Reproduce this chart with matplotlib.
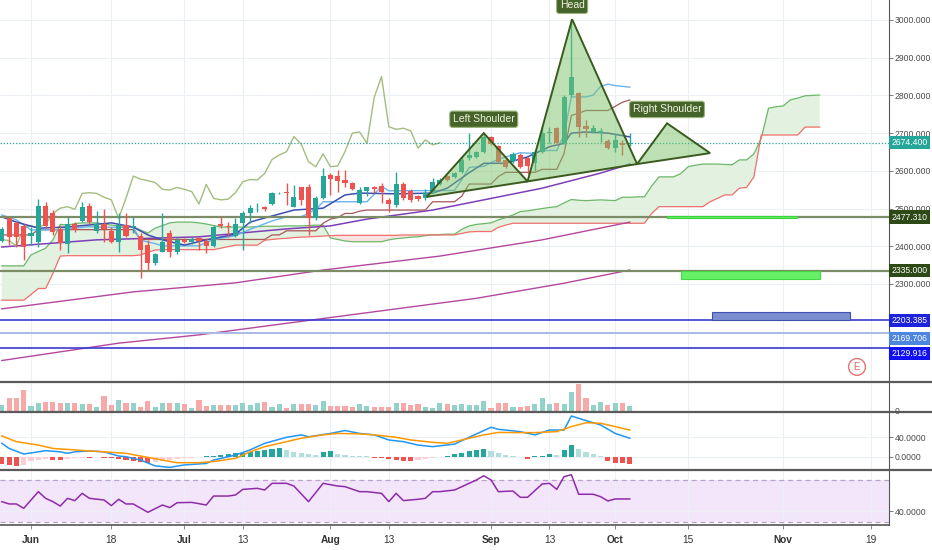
import numpy as np
import matplotlib.pyplot as plt
import matplotlib.transforms as mtransforms
from matplotlib.colors import to_rgba
from matplotlib.lines import Line2D
from matplotlib.patches import Polygon, Rectangle

plt.rcParams['font.family'] = ['Liberation Sans', 'DejaVu Sans']

# one step per trading day, 0 = 1 Jun
bars = np.arange(-4, 83)

opens = [2415, 2474, 2461, 2454, 2427, 2412, 2508, 2487, 2445, 2406,
         2459, 2468, 2508, 2440, 2459, 2440, 2412, 2456, 2450, 2428,
         2403, 2355, 2386, 2436, 2386, 2417, 2410, 2421, 2414, 2401,
         2459, 2454, 2427, 2461, 2487, 2503, 2505, 2512, 2540, 2543,
         2505, 2556, 2558, 2474, 2527, 2589, 2585, 2576, 2569, 2514,
         2547, 2558, 2560, 2523, 2509, 2565, 2547, 2532, 2527, 2540,
         2566, 2586, 2583, 2598, 2633, 2636, 2651, 2689, 2666, 2630,
         2627, 2642, 2633, 2620, 2651, 2699, 2714, 2673, 2801, 2806,
         2719, 2704, 2701, 2680, 2660, 2673, 2670]
highs = [2450, 2478, 2468, 2459, 2450, 2524, 2518, 2496, 2456, 2478,
         2465, 2518, 2514, 2494, 2499, 2452, 2487, 2487, 2478, 2434,
         2417, 2383, 2487, 2443, 2424, 2421, 2424, 2424, 2421, 2456,
         2478, 2465, 2474, 2494, 2509, 2516, 2508, 2545, 2545, 2567,
         2562, 2558, 2564, 2532, 2607, 2593, 2602, 2602, 2571, 2558,
         2558, 2560, 2569, 2527, 2598, 2571, 2551, 2536, 2551, 2580,
         2580, 2589, 2596, 2637, 2701, 2653, 2700, 2693, 2668, 2633,
         2651, 2646, 2636, 2655, 2717, 2717, 2717, 2801, 3002, 2810,
         2735, 2722, 2713, 2684, 2699, 2682, 2699]
lows = [2411, 2403, 2399, 2364, 2403, 2399, 2448, 2430, 2390, 2381,
        2438, 2465, 2459, 2434, 2412, 2408, 2386, 2424, 2434, 2315,
        2337, 2350, 2384, 2372, 2379, 2408, 2406, 2390, 2381, 2399,
        2448, 2425, 2424, 2390, 2461, 2492, 2494, 2509, 2538, 2509,
        2503, 2510, 2430, 2470, 2525, 2536, 2545, 2558, 2549, 2512,
        2532, 2540, 2514, 2492, 2505, 2523, 2518, 2521, 2523, 2540,
        2562, 2574, 2580, 2595, 2630, 2633, 2648, 2668, 2620, 2607,
        2622, 2607, 2591, 2600, 2646, 2673, 2668, 2671, 2797, 2691,
        2691, 2700, 2677, 2657, 2651, 2642, 2666]
closes = [2445, 2424, 2424, 2399, 2436, 2508, 2454, 2439, 2408, 2459,
          2443, 2505, 2463, 2459, 2446, 2412, 2456, 2427, 2454, 2390,
          2355, 2379, 2410, 2386, 2417, 2412, 2418, 2415, 2401, 2450,
          2454, 2450, 2459, 2487, 2501, 2505, 2498, 2540, 2542, 2540,
          2530, 2523, 2474, 2527, 2586, 2578, 2574, 2569, 2551, 2549,
          2556, 2551, 2545, 2512, 2564, 2527, 2523, 2525, 2542, 2571,
          2577, 2576, 2593, 2630, 2642, 2651, 2691, 2671, 2624, 2611,
          2645, 2611, 2613, 2651, 2700, 2703, 2673, 2795, 2850, 2717,
          2710, 2713, 2706, 2660, 2682, 2669, 2674.4]
volume = [18, 38, 38, 63, 15, 25, 28, 28, 25, 23,
          23, 21, 21, 13, 46, 18, 33, 25, 23, 13,
          30, 13, 25, 23, 23, 21, 8, 33, 15, 18,
          18, 18, 18, 23, 18, 25, 28, 13, 21, 8,
          21, 21, 21, 18, 31, 15, 15, 15, 11, 21,
          15, 11, 11, 11, 23, 23, 18, 21, 11, 8,
          25, 21, 18, 21, 18, 18, 31, 8, 25, 25,
          13, 13, 15, 21, 38, 21, 25, 21, 58, 81,
          38, 18, 28, 18, 23, 23, 15]

# ichimoku
kijun = [2430, 2430, 2430, 2430, 2430, 2444, 2444, 2444, 2444, 2444,
         2444, 2444, 2444, 2444, 2444, 2444, 2444, 2444, 2444, 2418,
         2418, 2418, 2418, 2418, 2418, 2418, 2418, 2418, 2418, 2418,
         2418, 2418, 2418, 2418, 2418, 2418, 2418, 2430, 2430, 2441,
         2441, 2441, 2441, 2441, 2461, 2472, 2476, 2487, 2487, 2493,
         2496, 2496, 2496, 2496, 2496, 2496, 2496, 2496, 2496, 2518,
         2518, 2518, 2518, 2533, 2565, 2565, 2565, 2565, 2585, 2596,
         2596, 2596, 2596, 2596, 2604, 2604, 2604, 2646, 2747, 2753,
         2760, 2760, 2760, 2760, 2771, 2782, 2788]
tenkan_x = [-4, -2, 0, 4, 8, 10, 14, 15, 17, 18, 23, 25, 28, 30, 33, 35, 37, 39, 40, 46,
            47, 48, 49, 58, 59, 60, 62, 64, 67, 69, 70, 72, 73, 74, 76, 77, 78, 79, 80, 82]
tenkan_y = [2483, 2470, 2443, 2444, 2452, 2450, 2450, 2416, 2407, 2401, 2401, 2418, 2428, 2445,
            2467, 2478, 2478, 2498, 2518, 2518, 2538, 2559, 2547, 2548, 2577, 2609, 2612, 2631,
            2648, 2646, 2654, 2654, 2696, 2796, 2796, 2801, 2824, 2830, 2826, 2822]
# leading spans, already shifted 26 bars ahead (bars -4 .. 108)
span_a = [2348, 2348, 2348, 2348, 2377, 2386, 2395, 2417, 2458, 2456,
          2460, 2462, 2462, 2462, 2459, 2456, 2454, 2452, 2451, 2443,
          2435, 2448, 2455, 2462, 2464, 2464, 2464, 2462, 2459, 2455,
          2451, 2451, 2451, 2451, 2451, 2452, 2453, 2453, 2453, 2454,
          2454, 2454, 2455, 2456, 2456, 2422, 2418, 2414, 2412, 2412,
          2412, 2412, 2412, 2417, 2420, 2422, 2424, 2425, 2428, 2430,
          2431, 2432, 2432, 2445, 2454, 2458, 2460, 2462, 2470, 2476,
          2483, 2492, 2494, 2497, 2500, 2503, 2505, 2515, 2524, 2522,
          2521, 2522, 2523, 2522, 2521, 2530, 2530, 2531, 2531, 2560,
          2584, 2584, 2584, 2593, 2611, 2615, 2618, 2618, 2618, 2617,
          2616, 2629, 2629, 2645, 2686, 2766, 2770, 2772, 2788, 2793,
          2799, 2800, 2801]
span_b = [2257, 2257, 2257, 2257, 2272, 2288, 2288, 2328, 2374, 2375,
          2375, 2375, 2375, 2375, 2375, 2375, 2375, 2375, 2375, 2377,
          2384, 2390, 2391, 2391, 2391, 2391, 2391, 2391, 2391, 2391,
          2395, 2399, 2403, 2403, 2403, 2403, 2416, 2418, 2420, 2421,
          2423, 2424, 2425, 2426, 2427, 2428, 2429, 2429, 2429, 2429,
          2429, 2429, 2429, 2429, 2429, 2430, 2430, 2430, 2430, 2430,
          2430, 2430, 2430, 2434, 2438, 2439, 2439, 2439, 2450, 2456,
          2461, 2461, 2461, 2461, 2461, 2461, 2461, 2461, 2461, 2461,
          2461, 2461, 2461, 2461, 2461, 2461, 2461, 2461, 2461, 2487,
          2505, 2505, 2505, 2505, 2505, 2505, 2505, 2518, 2527, 2536,
          2536, 2554, 2556, 2584, 2695, 2695, 2695, 2695, 2695, 2695,
          2716, 2716, 2716]
lag_shift = 26

# moving averages
ema_x = [-4, -2, 1, 5, 11, 14, 16, 18, 21, 24, 28, 30, 32, 36, 40, 43, 45, 50, 55, 57,
         60, 62, 65, 68, 71, 73, 74, 76, 79, 82]
ema_y = [2478, 2464, 2448, 2451, 2462, 2451, 2430, 2417, 2403, 2417, 2432, 2464, 2475, 2496,
         2501, 2536, 2541, 2539, 2541, 2554, 2595, 2620, 2620, 2637, 2664, 2673, 2700, 2703,
         2700, 2690]
ma50_x = [-4, 9, 23, 35, 41, 46, 55, 62, 70, 78, 82]
ma50_y = [2398, 2417, 2425, 2446, 2454, 2472, 2496, 2523, 2554, 2594, 2618]
ma100_x = [-4, 14, 28, 40, 56, 70, 82]
ma100_y = [2234, 2279, 2303, 2337, 2374, 2417, 2464]
ma200_x = [-4, 12, 23, 41, 61, 73, 82]
ma200_y = [2097, 2143, 2165, 2211, 2262, 2302, 2337]

# levels and drawings
last_price = 2674.4
levels = [2477.31, 2335.0, 2203.385, 2169.706, 2129.916]
zone_start = [87.1, 89.0, 93.2]
zone_end = [104.9, 108.0, 112.2]
zone_low = [2475.0, 2313.0, 2203.4]
zone_high = [2480.0, 2335.0, 2225.0]
hs_x = [54.2, 62.0, 68.0, 74.1, 83.0, 87.1, 93.0]
hs_y = [2531, 2700, 2572, 3002, 2618, 2726, 2647]
hs_labels = ['Left Shoulder', 'Head', 'Right Shoulder']

# macd
macd_x = [-4, -3, -1, 1, 2, 4, 5, 6, 8, 10, 12, 13, 15, 17, 19, 21, 24, 25, 28, 30,
          32, 35, 37, 38, 41, 43, 45, 47, 49, 51, 53, 55, 58, 60, 63, 64, 67, 69, 71, 73,
          74, 76, 78, 80, 82]
macd_y = [27.6, 17, 5.5, 10, 12.4, 10, 7, 10, 12, 10, 1.4, 0, -7, -19, -22, -17, -14, -7, 3.4, 14,
          27.6, 40, 45, 41, 48, 54, 48, 45, 34.5, 31, 24, 20.7, 26, 40, 60.7, 56.5, 51.7, 45, 55, 55,
          84, 74.5, 65.5, 48, 38]
signal_x = [-4, -2, 1, 3, 6, 8, 10, 13, 15, 18, 20, 23, 25, 28, 30, 32, 35, 37, 40, 42,
            45, 47, 50, 52, 55, 57, 59, 62, 64, 67, 69, 72, 74, 76, 78, 80, 82]
signal_y = [42.8, 31, 24, 17, 14, 11.7, 10, 7, 1.4, -7, -12.4, -12.4, -10, -3.4, 10, 20.7, 31, 38,
            45, 48, 47, 45, 40, 34.5, 29.7, 27.6, 34.5, 45, 50, 49.7, 49.7, 51.7, 62, 70, 69, 62, 55]
hist = [-15, -17, -19, -18, -8, -6, -5, -7, -7.5, -4,
        -3, -2, -2, -1, -2, -3, -4, -6, -8, -10,
        -12, -10, -8, -6, -5, -3, -2, -1, 0.5, 2,
        4, 6, 7, 8, 10, 12, 14, 16, 18, 14,
        10, 7, 5, 3, 9, 11, 6, 4, 2, 1,
        0.5, -2, -3, -5, -7, -8, -8.5, -7, -4, -2,
        -1, 2, 5, 8, 11, 14, 16, 12, 8, 4,
        1, -1, -4, 1, 2, 5, 4, 13, 25, 15,
        9, 5, 2, -8, -12, -13, -15]

# rsi
rsi_x = [-4, -3, -2, -1, 1, 2, 3, 4, 5, 6, 7, 8, 10, 11, 12, 13, 14, 16, 18, 19,
         20, 22, 24, 25, 27, 28, 29, 31, 32, 33, 35, 36, 38, 40, 42, 43, 45, 46, 48, 49,
         50, 51, 53, 54, 55, 56, 58, 59, 61, 62, 63, 64, 66, 67, 68, 70, 71, 72, 73, 74,
         75, 77, 78, 79, 80, 82]
rsi_y = [49.2, 47, 47, 42.8, 58.8, 52.4, 49.2, 45, 52.4, 50.2, 57.2, 52.4, 50.8, 45.4, 51.5, 47,
         47, 39, 46, 43.5, 48.2, 48.5, 46, 54.6, 54.6, 55.6, 61, 62, 60.4, 66.8, 66.8, 64.2, 49.2,
         66.8, 64.2, 63.6, 58.8, 58.8, 57.2, 49.2, 57.2, 50.2, 51.5, 52.4, 58.8, 58.8, 60.4, 63.6,
         70, 74.1, 70, 58.8, 59.4, 53.4, 53.4, 66.2, 66.8, 61, 73.2, 75.1, 56.3, 56.3, 54, 49.9,
         51.8, 51.8]

date_ticks = [0, 11, 21, 29, 41, 49, 63, 71, 80, 90, 103, 115]
date_labels = ['Jun', '18', 'Jul', '13', 'Aug', '13', 'Sep', '13', 'Oct', '15', 'Nov', '19']
price_ticks = [2300, 2400, 2500, 2600, 2700, 2800, 2900, 3000]

# ---------------------------------------------------------------
W, H = 932, 550
fig = plt.figure(figsize=(W / 100, H / 100), dpi=100)
fig.patch.set_facecolor('white')


def pane(top, bottom):
    return fig.add_axes([0, 1 - bottom / H, 889 / W, (bottom - top) / H])


ax = pane(0, 381)
axv = pane(382, 411)
axm = pane(412, 469)
axr = pane(470, 525)

for a in (ax, axv, axm, axr):
    a.set_xlim(-4.25, 117.5)
    for s in ('left', 'top', 'bottom'):
        a.spines[s].set_visible(False)
    a.spines['right'].set_color('#555555')
    a.spines['right'].set_linewidth(0.8)
    a.yaxis.tick_right()
    a.tick_params(axis='y', labelsize=6.2, colors='#666666', labelcolor='#4a4a4a',
                  length=3, width=0.6, pad=1)
    a.set_xticks(date_ticks)
    a.tick_params(axis='x', length=0, labelbottom=False)
    a.grid(True, color='#eceff4', lw=0.8)
    a.set_axisbelow(True)

axr.spines['bottom'].set_visible(True)
axr.spines['bottom'].set_color('#555555')
axr.spines['bottom'].set_linewidth(1.2)
axr.set_xticklabels(date_labels)
axr.tick_params(axis='x', labelbottom=True, labelsize=7.3, labelcolor='#333333',
                length=3, width=0.6, color='#777777', pad=4)
for lab in axr.get_xticklabels():
    if not lab.get_text().isdigit():
        lab.set_fontweight('bold')

# --- main pane ---
o, h, l, c = map(np.array, (opens, highs, lows, closes))
up = c >= o
candle_col = np.where(up, '#26a69a', '#ef5350')

ax.set_ylim(2042.7, 3053)
ax.set_yticks(price_ticks)
ax.set_yticklabels([f'{v:.3f}' for v in price_ticks])

cloud_bars = np.arange(-4, -4 + len(span_a))
sa, sb = np.array(span_a), np.array(span_b)
ax.fill_between(cloud_bars, sa, sb, where=sa >= sb, interpolate=True,
                color='#e3f1e0', lw=0, zorder=1)
ax.fill_between(cloud_bars, sa, sb, where=sa < sb, interpolate=True,
                color='#fbe2e2', lw=0, zorder=1)
ax.plot(cloud_bars, sa, color='#6cb86a', lw=0.9, zorder=2)
ax.plot(cloud_bars, sb, color='#ef6f6c', lw=0.9, zorder=2)

ax.plot(ma200_x, ma200_y, color='#b5479e', lw=1.0, zorder=2)
ax.plot(ma100_x, ma100_y, color='#b5479e', lw=1.0, zorder=2)
ax.plot(ma50_x, ma50_y, color='#7e3fb8', lw=1.1, zorder=3)
ax.plot(bars[:-lag_shift], c[lag_shift:], color='#a4bd7e', lw=1.0, zorder=3)
ax.plot(bars, kijun, color='#a65757', lw=0.9, zorder=3)
ax.plot(tenkan_x, tenkan_y, color='#69b3ee', lw=1.0, zorder=3)
ax.plot(ema_x, ema_y, color='#3d4fb0', lw=1.1, zorder=3)

ax.vlines(bars, l, h, colors=candle_col, lw=1, zorder=4)
ax.bar(bars, np.maximum(np.abs(c - o), 0.8), bottom=np.minimum(o, c), width=0.7,
       color=candle_col, lw=0, zorder=5)

level_cols = ['#7c8c66', '#7c8c66', '#3b3bd0', '#a8bbe6', '#3b3bd0']
level_lw = [1.6, 1.6, 1.2, 1.4, 1.2]
for lev, col, lw in zip(levels, level_cols, level_lw):
    ax.axhline(lev, color=col, lw=lw, zorder=3)
ax.axhline(last_price, color='#26a69a', lw=0.9, ls=(0, (1, 1.5)), zorder=3)

zone_face = ['#5aee5a', '#66f066', '#7b8fd0']
zone_edge = ['#3fd33f', '#44d944', '#4050b0']
for x0, x1, y0, y1, fc, ec in zip(zone_start, zone_end, zone_low, zone_high, zone_face, zone_edge):
    ax.add_patch(Rectangle((x0, y0), x1 - x0, y1 - y0, fc=fc, ec=ec, lw=0.8, zorder=6))

pts = list(zip(hs_x, hs_y))
for tri in ((0, 1, 2), (2, 3, 4), (4, 5, 6)):
    ax.add_patch(Polygon([pts[i] for i in tri], closed=True,
                         fc=to_rgba('#7cc46a', 0.5), ec='#3a5a1e', lw=1.4, zorder=7))
for name, i in zip(hs_labels, (1, 3, 5)):
    ax.annotate(name, xy=pts[i], xytext=(0, 10), textcoords='offset points',
                ha='center', va='center', fontsize=7.5, color='#eef3e2', zorder=9,
                bbox=dict(boxstyle='round,pad=0.3,rounding_size=0.25', fc='#46632a',
                          ec='#9ab57a', lw=0.8), annotation_clip=False)

ytr = mtransforms.blended_transform_factory(ax.transAxes, ax.transData)
tag_vals = [last_price] + levels
tag_bg = ['#26a69a', '#2d4a16', '#2d4a16', '#1d22dc', '#4c86e0', '#1010f5']
tag_dy = [0, 0, 0, 0, -4, -4]
for v, bg, dy in zip(tag_vals, tag_bg, tag_dy):
    ax.annotate(f'{v:.3f}', xy=(1, v), xycoords=ytr, xytext=(1.8, dy),
                textcoords='offset points', ha='left', va='center', fontsize=6.2,
                color='white', zorder=20, annotation_clip=False,
                bbox=dict(boxstyle='square,pad=0.25', fc=bg, ec='none'))

ax.text(0.964, 0.037, 'E', transform=ax.transAxes, ha='center', va='center',
        fontsize=7, color='#e06666', zorder=10,
        bbox=dict(boxstyle='circle,pad=0.35', fc='white', ec='#e57373', lw=1))

# --- volume ---
axv.set_ylim(0, 87)
axv.set_yticks([0])
axv.set_yticklabels(['0'])
axv.bar(bars, volume, width=0.7, color=np.where(up, '#92d2c8', '#f6a9a8'), lw=0)

# --- macd ---
hv = np.array(hist)
prev = np.concatenate([[hv[0]], hv[:-1]])
hcol = np.where(hv >= 0, np.where(hv >= prev, '#26a69a', '#b2dfdb'),
                np.where(hv <= prev, '#ef5350', '#ffcdd2'))
axm.set_ylim(-25.4, 92.2)
axm.set_yticks([0, 40])
axm.set_yticklabels(['0.0000', '40.0000'])
axm.bar(bars, hv, width=0.7, color=hcol, lw=0)
axm.plot(macd_x, macd_y, color='#2196f3', lw=1.1)
axm.plot(signal_x, signal_y, color='#ff9800', lw=1.1)

# --- rsi ---
axr.set_ylim(26.8, 79.6)
axr.set_yticks([40])
axr.set_yticklabels(['40.0000'])
axr.axhspan(30, 70, color='#f3e6fb', lw=0, zorder=0)
for lvl in (30, 70):
    axr.axhline(lvl, color='#b7a4c8', lw=0.9, ls=(0, (4, 3)))
axr.plot(rsi_x, rsi_y, color='#8e2ba8', lw=1.1)

# pane separators
for ypx in (381.5, 411.5, 469.5):
    fig.add_artist(Line2D([0, 1], [1 - ypx / H] * 2, transform=fig.transFigure,
                          color='#5a5a5a', lw=1.6))

fig.savefig('out.png', dpi=100)
